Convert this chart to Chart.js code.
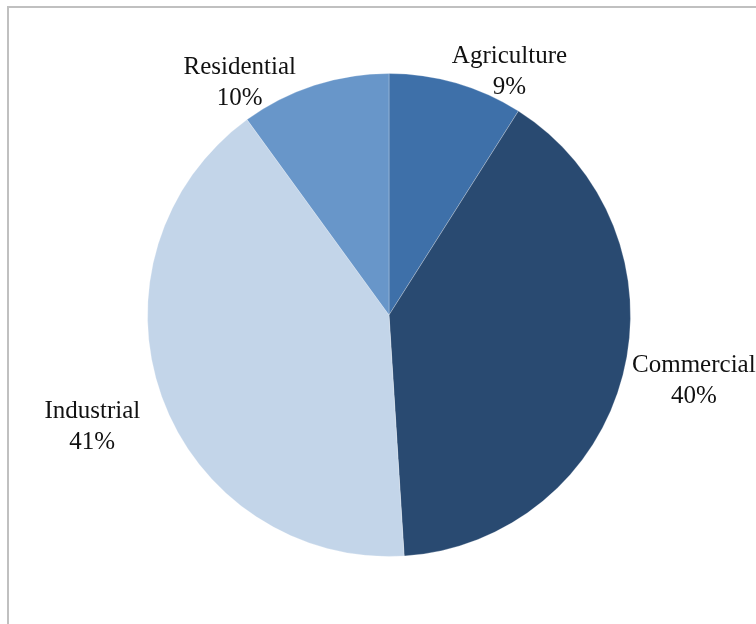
<!DOCTYPE html>
<html>
<head>
<meta charset="utf-8">
<title>Share by sector</title>
<script src="https://cdn.jsdelivr.net/npm/chart.js@4.4.1/dist/chart.umd.min.js"></script>
<style>
	html, body { margin: 0; padding: 0; background: #fff; overflow: hidden; }
	#frame {
		position: absolute; left: 7px; top: 6px; width: 800px; height: 700px;
		border-top: 2px solid #c0c0c0; border-left: 2px solid #c0c0c0;
	}
	#sector-chart { position: absolute; left: 0; top: 0; }
</style>
</head>
<body>
<div id="frame"></div>
<canvas id="sector-chart" width="756" height="624"></canvas>
<script>
const sectors = [ 'Agriculture', 'Commercial', 'Industrial', 'Residential' ];
const shares = [ 9, 40, 41, 10 ];
const sliceColors = [ '#3e70a9', '#294a71', '#c3d5e9', '#6896c9' ];

// Label placement: distance (x radius) and turn from the slice middle, in degrees.
const labelDistance = [ 1.13, 1.29, 1.31, 1.15 ];
const labelTurn = [ 10, -2.5, -0.5, -14.5 ];

const total = shares.reduce( ( a, b ) => a + b, 0 );

// Name + percent outside each slice
const sliceLabels = {
	id: 'sliceLabels',
	afterDatasetsDraw( chart ) {
		const { ctx } = chart;
		const arcs = chart.getDatasetMeta( 0 ).data;
		ctx.save();
		ctx.font = '25px "Liberation Serif", "Times New Roman", serif';
		ctx.fillStyle = '#111';
		ctx.textAlign = 'center';
		ctx.textBaseline = 'middle';
		arcs.forEach( ( arc, i ) => {
			const { x, y, startAngle, endAngle, outerRadius } = arc.getProps( [ 'x', 'y', 'startAngle', 'endAngle', 'outerRadius' ], true );
			const mid = ( startAngle + endAngle ) / 2 + labelTurn[ i ] * Math.PI / 180;
			const dist = outerRadius * labelDistance[ i ];
			const lx = x + Math.cos( mid ) * dist;
			const ly = y + Math.sin( mid ) * dist + 2;
			const pct = Math.round( shares[ i ] / total * 100 ) + '%';
			ctx.fillText( sectors[ i ], lx, ly - 15.5 );
			ctx.fillText( pct, lx, ly + 15.5 );
		} );
		ctx.restore();
	}
};

new Chart( document.getElementById( 'sector-chart' ), {
	type: 'pie',
	data: {
		labels: sectors,
		datasets: [
			{
				data: shares,
				backgroundColor: sliceColors,
				borderColor: 'rgba(255,255,255,0.25)',
				borderWidth: 1,
			}
		],
	},
	options: {
		responsive: false,
		animation: false,
		devicePixelRatio: 1,
		layout: {
			padding: { left: 147, right: 125, top: 73, bottom: 67 },
		},
		plugins: {
			legend: { display: false },
			tooltip: { enabled: false },
		},
	},
	plugins: [ sliceLabels ],
} );
</script>
</body>
</html>
